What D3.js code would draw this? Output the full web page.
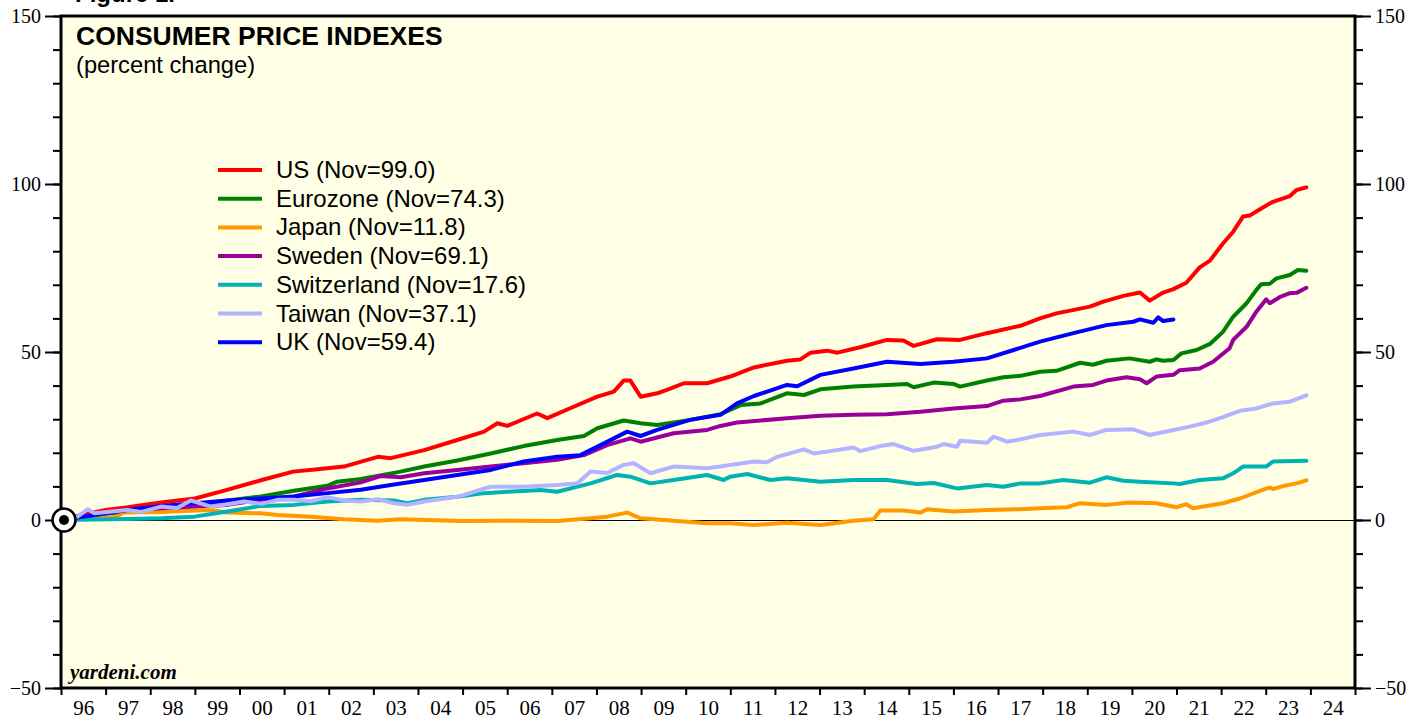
<!DOCTYPE html>
<html>
<head>
<meta charset="utf-8">
<script src="https://cdn.jsdelivr.net/npm/d3@7"></script>
<style>
  body { margin: 0; background: #fff; }
  svg { display: block; }
</style>
</head>
<body>
<div id="chart"></div>
<script>
// cumulative percent change since Jan 1996, [year, value]
var usCPI = [[1996.0,0],[1996.37,1.2],[1997.0,3.0],[1997.5,3.8],[1998.24,5.2],[1999.0,6.4],[1999.7,8.9],[2000.5,11.9],[2001.2,14.4],[2001.75,15.1],[2002.34,15.9],[2003.1,18.8],[2003.39,18.4],[2004.14,20.8],[2004.88,23.8],[2005.48,26.3],[2005.78,28.8],[2006.0,28.0],[2006.67,31.7],[2006.9,30.3],[2007.49,33.7],[2008.02,36.7],[2008.39,38.2],[2008.61,41.5],[2008.76,41.5],[2008.99,36.7],[2009.36,37.7],[2009.58,38.7],[2009.96,40.7],[2010.48,40.7],[2011.0,42.7],[2011.53,45.4],[2012.27,47.4],[2012.57,47.8],[2012.8,49.8],[2013.17,50.4],[2013.4,49.8],[2013.91,51.4],[2014.51,53.6],[2014.88,53.4],[2015.11,51.8],[2015.63,53.8],[2016.15,53.6],[2016.75,55.6],[2017.5,57.8],[2017.94,60.0],[2018.31,61.5],[2019.06,63.5],[2019.36,65.0],[2019.81,66.7],[2020.18,67.7],[2020.4,65.3],[2020.7,67.7],[2020.93,68.7],[2021.22,70.6],[2021.52,75.2],[2021.75,77.2],[2022.04,82.3],[2022.27,85.8],[2022.49,90.3],[2022.64,90.6],[2022.87,92.5],[2023.16,94.7],[2023.54,96.4],[2023.69,98.2],[2023.91,99.0]];
var euroCPI = [[1996.0,0],[1996.75,1.5],[1997.49,2.5],[1998.24,3.5],[1998.99,4.5],[1999.73,5.8],[2000.48,7.0],[2001.22,8.7],[2001.97,10.2],[2002.19,11.4],[2002.72,12.2],[2003.09,13.1],[2003.61,14.4],[2004.14,15.9],[2004.88,17.7],[2005.63,19.8],[2006.37,22.0],[2007.12,23.8],[2007.72,25.0],[2008.02,27.3],[2008.61,29.6],[2008.99,28.8],[2009.36,28.3],[2010.1,29.8],[2010.78,31.5],[2011.23,34.2],[2011.68,34.7],[2012.27,37.7],[2012.65,37.2],[2013.02,38.9],[2013.76,39.7],[2014.51,40.2],[2014.96,40.5],[2015.11,39.5],[2015.56,40.9],[2016.0,40.5],[2016.15,39.7],[2016.75,41.5],[2017.12,42.5],[2017.5,42.9],[2017.94,44.1],[2018.31,44.4],[2018.84,46.8],[2019.13,46.2],[2019.43,47.4],[2019.95,48.1],[2020.4,47.1],[2020.55,47.8],[2020.7,47.4],[2020.93,47.6],[2021.11,49.6],[2021.45,50.6],[2021.75,52.4],[2022.04,56.0],[2022.27,60.5],[2022.57,64.5],[2022.79,68.5],[2022.9,70.2],[2023.09,70.3],[2023.24,71.9],[2023.54,72.9],[2023.72,74.4],[2023.91,74.2]];
var japanCPI = [[1996.0,0],[1996.75,0.5],[1997.25,1.0],[1997.4,2.2],[1998.24,2.4],[1998.61,2.6],[1999.36,3.0],[1999.73,2.2],[2000.48,2.0],[2000.85,1.5],[2001.6,1.0],[2002.34,0.2],[2003.09,-0.2],[2003.61,0.2],[2004.14,0.0],[2005.0,-0.3],[2006.0,-0.2],[2007.12,-0.3],[2007.87,0.5],[2008.24,1.0],[2008.69,2.2],[2008.99,0.5],[2009.73,-0.2],[2010.48,-1.0],[2011.0,-1.0],[2011.53,-1.5],[2012.27,-0.8],[2013.02,-1.5],[2013.76,-0.2],[2014.21,0.2],[2014.36,2.8],[2014.88,2.8],[2015.26,2.2],[2015.41,3.2],[2016.0,2.5],[2016.75,3.0],[2017.5,3.2],[2017.94,3.5],[2018.54,3.8],[2018.84,5.0],[2019.43,4.5],[2019.95,5.2],[2020.55,5.0],[2021.0,3.8],[2021.22,4.7],[2021.37,3.5],[2022.04,5.0],[2022.42,6.4],[2022.87,8.7],[2023.09,9.7],[2023.16,9.2],[2023.39,10.1],[2023.69,10.9],[2023.91,11.8]];
var swedenCPI = [[1996.0,0],[1996.75,1.5],[1997.49,3.0],[1998.24,3.5],[1998.99,4.0],[1999.73,4.5],[2000.48,6.0],[2001.22,7.0],[2001.97,9.4],[2002.72,11.2],[2003.16,13.1],[2003.61,12.7],[2004.14,13.9],[2004.88,14.9],[2005.63,15.9],[2006.37,16.9],[2007.12,17.9],[2007.72,19.3],[2008.24,22.3],[2008.76,24.3],[2008.99,23.3],[2009.73,25.8],[2010.48,26.8],[2010.78,28.0],[2011.15,29.0],[2012.27,30.3],[2013.02,31.0],[2013.76,31.3],[2014.51,31.5],[2015.26,32.2],[2016.0,33.2],[2016.75,33.9],[2017.12,35.5],[2017.5,35.9],[2017.94,36.9],[2018.69,39.7],[2019.13,40.2],[2019.43,41.5],[2019.88,42.5],[2020.18,41.9],[2020.33,40.7],[2020.55,42.7],[2020.93,43.2],[2021.07,44.6],[2021.52,45.1],[2021.82,47.1],[2022.19,51.1],[2022.27,53.6],[2022.57,57.5],[2022.79,62.0],[2023.01,65.7],[2023.09,64.5],[2023.31,66.3],[2023.54,67.5],[2023.69,67.6],[2023.91,69.1]];
var swissCPI = [[1996.0,0],[1997.49,0.3],[1998.24,0.5],[1998.99,1.0],[1999.73,2.5],[2000.48,4.2],[2001.22,4.5],[2001.97,5.5],[2002.72,6.0],[2003.46,5.8],[2003.76,5.0],[2004.14,6.0],[2004.88,6.9],[2005.4,7.9],[2006.0,8.4],[2006.75,8.9],[2007.12,8.4],[2007.87,10.9],[2008.46,13.4],[2008.76,12.9],[2009.21,10.9],[2009.73,11.9],[2010.48,13.4],[2010.85,11.9],[2011.0,12.9],[2011.38,13.7],[2011.9,11.9],[2012.27,12.4],[2013.02,11.4],[2013.76,11.9],[2014.51,11.9],[2015.18,10.7],[2015.56,11.0],[2016.08,9.4],[2016.75,10.4],[2017.12,9.9],[2017.5,10.9],[2017.94,10.9],[2018.46,11.9],[2019.06,11.1],[2019.43,12.7],[2019.81,11.7],[2020.18,11.4],[2020.93,10.9],[2021.07,10.7],[2021.52,11.9],[2022.04,12.4],[2022.27,13.9],[2022.49,15.9],[2023.01,15.9],[2023.16,17.4],[2023.91,17.6]];
var taiwanCPI = [[1996.0,0],[1996.37,1.0],[1996.6,3.2],[1996.75,2.0],[1997.2,2.6],[1997.49,3.0],[1997.8,2.4],[1998.24,4.0],[1998.6,3.6],[1998.91,5.8],[1999.36,4.0],[1999.7,4.6],[2000.1,5.5],[2000.5,4.8],[2000.85,6.0],[2001.22,6.0],[2001.6,5.6],[2001.97,6.8],[2002.34,5.8],[2002.72,5.5],[2003.1,6.2],[2003.46,5.0],[2003.76,4.5],[2004.14,5.5],[2004.88,6.9],[2005.63,9.9],[2006.37,9.9],[2007.12,10.4],[2007.57,10.9],[2007.87,14.4],[2008.24,14.0],[2008.61,16.4],[2008.84,16.9],[2009.21,13.9],[2009.73,15.9],[2010.48,15.4],[2010.78,15.9],[2011.0,16.4],[2011.53,17.4],[2011.82,17.2],[2012.05,18.8],[2012.65,21.0],[2012.87,19.8],[2013.24,20.5],[2013.76,21.6],[2013.91,20.5],[2014.36,22.0],[2014.66,22.6],[2015.11,20.6],[2015.63,21.8],[2015.78,22.6],[2016.08,21.8],[2016.15,23.6],[2016.75,23.0],[2016.9,24.8],[2017.2,23.3],[2017.5,24.0],[2017.94,25.3],[2018.69,26.3],[2019.06,25.3],[2019.43,26.8],[2020.03,27.0],[2020.4,25.3],[2020.93,26.8],[2021.3,27.8],[2021.67,29.0],[2022.04,30.6],[2022.42,32.5],[2022.79,33.2],[2023.16,34.7],[2023.54,35.2],[2023.91,37.1]];
var ukCPI = [[1996.0,0],[1996.75,1.5],[1997.49,3.0],[1998.24,4.2],[1998.99,5.0],[1999.73,5.8],[2000.48,6.4],[2001.22,7.0],[2001.97,8.0],[2002.72,9.0],[2003.39,10.4],[2004.14,11.9],[2004.88,13.4],[2005.63,14.9],[2006.37,17.4],[2007.12,18.8],[2007.64,19.3],[2008.17,22.8],[2008.69,26.3],[2008.99,25.0],[2009.36,26.8],[2010.1,29.8],[2010.78,31.3],[2011.15,34.7],[2011.53,36.9],[2012.27,40.2],[2012.5,39.8],[2013.02,43.2],[2013.76,45.1],[2014.51,47.1],[2015.26,46.4],[2016.0,47.1],[2016.75,48.1],[2017.35,50.6],[2017.94,53.1],[2018.69,55.6],[2019.43,58.0],[2020.03,59.0],[2020.18,59.7],[2020.48,58.7],[2020.59,60.3],[2020.7,59.2],[2020.93,59.7]];

var seriesNames = ['US', 'Eurozone', 'Japan', 'Sweden', 'Switzerland', 'Taiwan', 'UK'];
var latestValues = ['99.0', '74.3', '11.8', '69.1', '17.6', '37.1', '59.4'];
var seriesData = [usCPI, euroCPI, japanCPI, swedenCPI, swissCPI, taiwanCPI, ukCPI];
var seriesColors = ['#ff0000', '#008000', '#ff9900', '#990099', '#00b2b2', '#b3b3ff', '#0000ff'];
var drawOrder = [0, 1, 2, 3, 4, 6, 5];

var yearTicks = d3.range(1996, 2026);
var yMajor = [-50, 0, 50, 100, 150];
var yMinor = d3.range(-50, 151, 10);

var width = 1426, height = 719;
var plotLeft = 61, plotRight = 1355, plotTop = 16, plotBottom = 688;

var x = d3.scaleLinear().domain([1996, 2025]).range([plotLeft, plotRight]);
var y = d3.scaleLinear().domain([-50, 150]).range([plotBottom, plotTop]);

var svg = d3.select('#chart').append('svg')
    .attr('width', width).attr('height', height);

// cut-off figure caption at the very top
svg.append('text')
    .attr('x', 75).attr('y', 2)
    .style('font', 'bold 24px Arial, "Liberation Sans", sans-serif')
    .text('Figure 1.');

svg.append('rect')
    .attr('x', plotLeft).attr('y', plotTop)
    .attr('width', plotRight - plotLeft).attr('height', plotBottom - plotTop)
    .attr('fill', '#ffffe6');

svg.append('clipPath').attr('id', 'plot-clip')
  .append('rect')
    .attr('x', plotLeft).attr('y', plotTop)
    .attr('width', plotRight - plotLeft).attr('height', plotBottom - plotTop);

// zero line
svg.append('line')
    .attr('x1', plotLeft).attr('x2', plotRight)
    .attr('y1', y(0) + 0.5).attr('y2', y(0) + 0.5)
    .attr('stroke', '#000').attr('stroke-width', 1);

// axes
var serif = '"Liberation Serif", "Times New Roman", Times, serif';

function yAxis(g, axisFn) {
  g.append('g').call(axisFn(y).tickValues(yMinor).tickSize(8).tickFormat(''));
  g.append('g').call(axisFn(y).tickValues(yMajor).tickSize(16).tickPadding(4).tickFormat(d3.format('d')));
  g.selectAll('.domain').remove();
  g.selectAll('line').attr('stroke', '#000').attr('stroke-width', 2);
  g.selectAll('text').style('font', '20px ' + serif).attr('fill', '#000');
}
svg.append('g').attr('transform', 'translate(' + plotLeft + ',0)').call(yAxis, d3.axisLeft);
svg.append('g').attr('transform', 'translate(' + plotRight + ',0)').call(yAxis, d3.axisRight);

var xg = svg.append('g').attr('transform', 'translate(0,' + plotBottom + ')');
xg.append('g').call(d3.axisBottom(x).tickValues(yearTicks).tickSize(7).tickFormat(''));
xg.append('g').call(d3.axisBottom(x)
    .tickValues(yearTicks.slice(0, -1).map(function(d) { return d + 0.5; }))
    .tickSize(0).tickPadding(12)
    .tickFormat(function(d) { return String(Math.floor(d) % 100).padStart(2, '0'); }));
xg.selectAll('.domain').remove();
xg.selectAll('line').attr('stroke', '#000').attr('stroke-width', 2);
xg.selectAll('text').style('font', '21px ' + serif).attr('fill', '#000');

// series
var line = d3.line()
    .x(function(d) { return x(d[0]); })
    .y(function(d) { return y(d[1]); });

svg.append('g').attr('clip-path', 'url(#plot-clip)')
  .selectAll('path')
  .data(drawOrder)
  .join('path')
    .attr('d', function(i) { return line(seriesData[i]); })
    .attr('fill', 'none')
    .attr('stroke', function(i) { return seriesColors[i]; })
    .attr('stroke-width', 4)
    .attr('stroke-linejoin', 'round')
    .attr('stroke-linecap', 'round');

// frame
svg.append('rect')
    .attr('x', plotLeft).attr('y', plotTop)
    .attr('width', plotRight - plotLeft).attr('height', plotBottom - plotTop)
    .attr('fill', 'none').attr('stroke', '#000').attr('stroke-width', 3);

// base-point marker
svg.append('circle')
    .attr('cx', x(1996) + 3).attr('cy', y(0)).attr('r', 11.5)
    .attr('fill', '#fff').attr('stroke', '#000').attr('stroke-width', 2.5);
svg.append('circle')
    .attr('cx', x(1996) + 3).attr('cy', y(0)).attr('r', 5)
    .attr('fill', '#000');

// titles
var sans = 'Arial, "Liberation Sans", Helvetica, sans-serif';
svg.append('text').attr('x', 76).attr('y', 45)
    .style('font', 'bold 26.5px ' + sans)
    .text('CONSUMER PRICE INDEXES');
svg.append('text').attr('x', 76).attr('y', 73)
    .style('font', '23.7px ' + sans)
    .text('(percent change)');

// legend
var legend = svg.append('g').selectAll('g')
  .data(seriesNames)
  .join('g')
    .attr('transform', function(d, i) { return 'translate(218,' + (170 + i * 28.7) + ')'; });
legend.append('line')
    .attr('x1', 0).attr('x2', 44)
    .attr('stroke', function(d, i) { return seriesColors[i]; })
    .attr('stroke-width', 4);
legend.append('text')
    .attr('x', 58).attr('y', 8)
    .style('font', '24px ' + sans)
    .text(function(d, i) { return d + ' (Nov=' + latestValues[i] + ')'; });

svg.append('text').attr('x', 70).attr('y', 679)
    .style('font', 'italic bold 21px ' + serif)
    .text('yardeni.com');
</script>
</body>
</html>
